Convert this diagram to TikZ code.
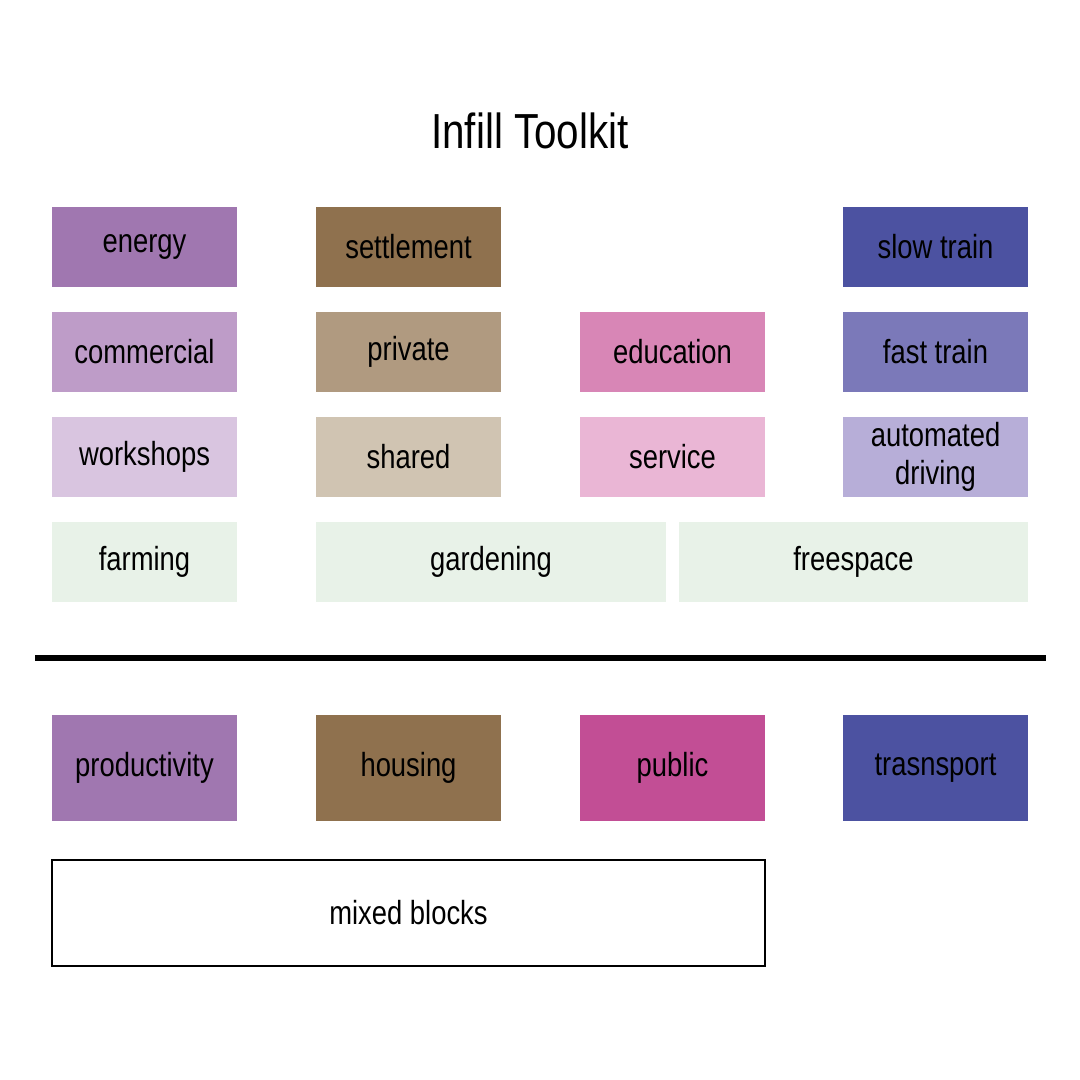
\documentclass[tikz,border=0pt]{standalone}
\usepackage{fontspec}
\setmainfont[FakeStretch=0.82]{Liberation Sans}
\usetikzlibrary{positioning}
\definecolor{cEnergy}{HTML}{A077B0}
\definecolor{cCommercial}{HTML}{BE9CC8}
\definecolor{cWorkshops}{HTML}{D9C5E0}
\definecolor{cGreen}{HTML}{E8F2E8}
\definecolor{cSettlement}{HTML}{8F714E}
\definecolor{cPrivate}{HTML}{B09A80}
\definecolor{cShared}{HTML}{D0C4B2}
\definecolor{cEducation}{HTML}{D886B6}
\definecolor{cService}{HTML}{EAB6D5}
\definecolor{cPublic}{HTML}{C24E95}
\definecolor{cSlow}{HTML}{4C52A1}
\definecolor{cFast}{HTML}{7B79B9}
\definecolor{cAuto}{HTML}{B7AED8}
\tikzset{
  tool/.style={fill=#1, inner sep=0pt, minimum width=1.85cm, minimum height=0.8cm,
    align=center, font=\fontsize{9.5}{11}\selectfont},
  base/.style={tool=#1, minimum height=1.06cm}
}
\begin{document}
\begin{tikzpicture}[x=0.01cm,y=-0.01cm]
  \useasboundingbox (0,0) rectangle (1080,1080);
  \node[font=\fontsize{14}{16}\selectfont] (title) at (530,131) {Infill Toolkit};
  % productivity column
  \node[tool=cEnergy] (energy) at (144.5,247) {energy};
  \node[tool=cCommercial] (commercial) at (144.5,352) {commercial};
  \node[tool=cWorkshops] (workshops) at (144.5,457) {workshops};
  \node[tool=cGreen] (farming) at (144.5,562) {farming};
  % housing column
  \node[tool=cSettlement] (settlement) at (408.5,247) {settlement};
  \node[tool=cPrivate] (private) at (408.5,352) {private};
  \node[tool=cShared] (shared) at (408.5,457) {shared};
  \node[tool=cGreen, minimum width=3.5cm] (gardening) at (491,562) {gardening};
  % public column
  \node[tool=cEducation] (education) at (672.5,352) {education};
  \node[tool=cService] (service) at (672.5,457) {service};
  \node[tool=cGreen, minimum width=3.49cm] (freespace) at (853.5,562) {freespace};
  % transport column
  \node[tool=cSlow] (slow) at (935.5,247) {slow train};
  \node[tool=cFast] (fast) at (935.5,352) {fast train};
  \node[tool=cAuto] (auto) at (935.5,457) {automated\\driving};
  \coordinate (lineL) at (35,658);
  \coordinate (lineR) at (1046,658);
  \draw[line width=1.5pt] (lineL) -- (lineR);
  \node[base=cEnergy] (productivity) at (144.5,768) {productivity};
  \node[base=cSettlement] (housing) at (408.5,768) {housing};
  \node[base=cPublic] (public) at (672.5,768) {public};
  \node[base=cSlow] (transport) at (935.5,768) {trasnsport};
  \node[tool=white, draw=black, line width=0.6pt, minimum width=7.13cm, minimum height=1.06cm] (mixed) at (408.5,913) {mixed blocks};
\end{tikzpicture}
\end{document}
